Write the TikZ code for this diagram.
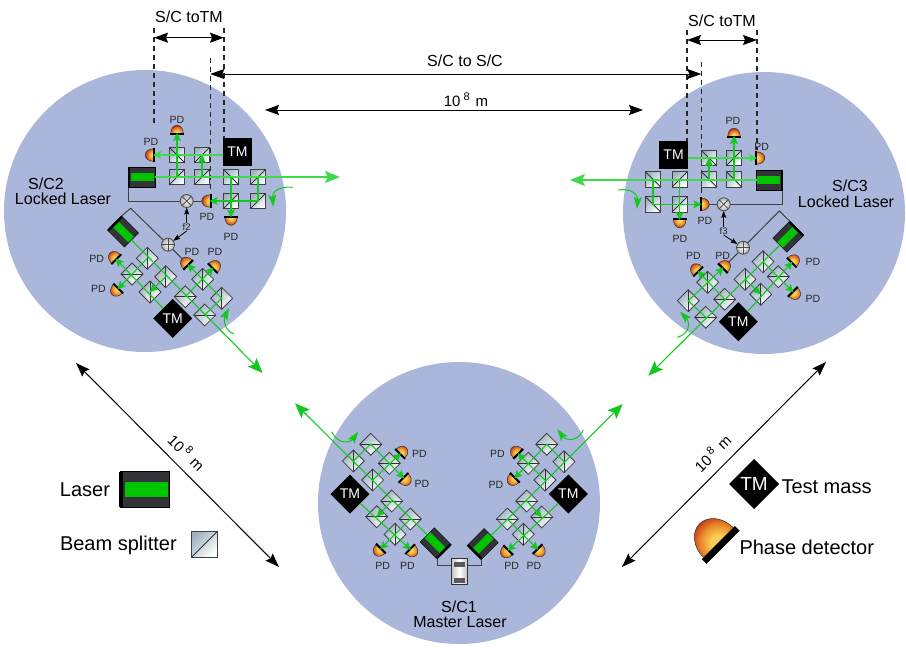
\documentclass[tikz,border=0pt]{standalone}
\usepackage{fontspec}
\setmainfont{Liberation Sans}
\usetikzlibrary{arrows.meta,shapes.geometric}
\definecolor{disc}{HTML}{AAB7DA}
\definecolor{beamg}{HTML}{12C81E}
\definecolor{beaml}{HTML}{3FD94A}
\definecolor{lasg}{HTML}{00C400}
\definecolor{lasd}{HTML}{33333A}
\definecolor{bsd}{HTML}{9DB2C0}
\definecolor{pdy}{HTML}{F8CF55}
\definecolor{pdo}{HTML}{E98A2A}
\definecolor{pdr}{HTML}{BE1E12}
\pgfdeclareradialshading{pdshade}{\pgfpointorigin}{color(0bp)=(pdy); color(6bp)=(pdy); color(15bp)=(pdo); color(25bp)=(pdr); color(50bp)=(pdr)}
\pgfdeclarelayer{back}
\pgfsetlayers{back,main}
\tikzset{
  fs/.style={font=\fontsize{#1}{#1}\selectfont,inner sep=0pt},
  sc/.style={circle,fill=disc,minimum size=282,inner sep=0},
  bs/.style={rectangle,draw=black!75,line width=.8,minimum size=15.5,inner sep=0,top color=bsd,bottom color=white,shading angle=45},
  bsl/.style={draw=black!80,line width=.8},
  tmq/.style={rectangle,fill=black,text=white,minimum size=28.5,inner sep=0,fs=14},
  tmd/.style={diamond,aspect=1,fill=black,text=white,minimum size=39,inner sep=0,fs=14},
  lab/.style={fs=16},
  pdlab/.style={fs=10.5,text=black!85},
  flab/.style={fs=9.5,text=black!85,inner sep=.5},
  bm/.style={draw=beamg,line width=1.1},
  bmh/.style={draw=beaml,line width=1.9},
  smalltip/.style={-{Stealth[length=8pt,width=8pt,inset=1.5pt]}},
  bigtip/.style={-{Stealth[length=15pt,width=12pt,inset=3pt]}},
  curv/.style={draw=beamg,line width=1,-{Stealth[length=12pt,width=8pt,inset=2.5pt]}},
  wire/.style={draw=black!75,line width=1},
  dimarrow/.style={draw=black,line width=1,{Stealth[length=14pt,width=10pt,inset=2pt]}-{Stealth[length=14pt,width=10pt,inset=2pt]}},
  dash1/.style={draw=black!85,line width=1.25,dash pattern=on 5pt off 4pt},
  fine/.style={draw=black,line width=.8,-{Stealth[length=7pt,width=5pt,inset=1pt]}},
  mixer/.style={circle,draw=black!70,line width=.8,minimum size=13,inner sep=0,inner color=white,outer color=black!30},
}
\newcommand\bsA[3]{\node[bs,rotate=#3] (#1) at (#2) {}; \draw[bsl] (#1.south west)--(#1.north east);}
\newcommand\bsB[3]{\node[bs,rotate=#3] (#1) at (#2) {}; \draw[bsl] (#1.north west)--(#1.south east);}
% name, flat centre, direction of the dome, scale
\newcommand\pdshape[4]{\coordinate (#1) at (#2);
  \begin{scope}[shift={(#2)},rotate=#3,scale=#4]
    \begin{scope}
      \clip (0pt,-6.2pt) arc[start angle=-90,end angle=90,x radius=7.8pt,y radius=6.2pt] -- cycle;
      \shade[shading=pdshade] (0pt,0pt) circle (8pt);
    \end{scope}
    \draw[black!80,line width=.5] (0pt,-6.2pt) arc[start angle=-90,end angle=90,x radius=7.8pt,y radius=6.2pt];
    \fill[black] (-2pt,-6.9pt) rectangle (0pt,6.9pt);
  \end{scope}}
\newcommand\pd[4]{\pdshape{#1}{#2}{#3}{1}\node[pdlab] (#1l) at (#4) {PD};}
% name, centre, rotation, length, scale factor
\newcommand\laser[5]{\node[rectangle,fill=lasd,draw=black,line width=.4,rotate=#3,minimum width=#4*#5,minimum height=20*#5,inner sep=0] (#1) at (#2) {};
  \begin{scope}[shift={(#2)},rotate=#3,scale=#5]
    \fill[lasg] ({-#4/2+2.5},-4) rectangle ({#4/2-.6},4);
    \fill[black] ({-#4/2-.4},-9.5) rectangle ({-#4/2+1.8},9.5);
  \end{scope}}
\begin{document}
\begin{tikzpicture}[x=1pt,y=-1pt,every node/.append style={outer sep=0pt}]
\useasboundingbox (0,0) rectangle (906,648);
\begin{pgfonlayer}{back}
\node[sc] (sc2) at (145,211) {};
\node[sc] (sc3) at (764,213) {};
\node[sc] (sc1) at (459,503) {};
\end{pgfonlayer}
%--- reference coordinates of dimension lines
\coordinate (d1t) at (154,28);  \coordinate (d1b) at (154,125);
\coordinate (d2t) at (224,28);  \coordinate (d2b) at (224,138);
\coordinate (d3t) at (210.5,58);\coordinate (d3b) at (210.5,190);
\coordinate (d4t) at (687,30);  \coordinate (d4b) at (687,141);
\coordinate (d5t) at (757,30);  \coordinate (d5b) at (757,150);
\coordinate (d6t) at (701.5,62);\coordinate (d6b) at (701.5,197);
\foreach \n in {1,...,6}{\draw[dash1] (d\n t) -- (d\n b);}
\coordinate (a1l) at (154,37.7); \coordinate (a1r) at (224,37.7);
\coordinate (a2l) at (687,40);   \coordinate (a2r) at (757,40);
\coordinate (a3l) at (210.3,74); \coordinate (a3r) at (701.3,74);
\coordinate (a4l) at (265,110);  \coordinate (a4r) at (643,110);
\coordinate (a5l) at (76,363);   \coordinate (a5r) at (279,567);
\coordinate (a6l) at (622,567);  \coordinate (a6r) at (826,362);
\foreach \n in {1,...,6}{\draw[dimarrow] (a\n l) -- (a\n r);}
\node[lab] (t1) at (189,17) {S/C toTM};
\node[lab] (t2) at (722,21) {S/C toTM};
\node[lab] (t3) at (465,61) {S/C to S/C};
\node[fs=15] (t4) at (466,100) {10\hspace{3pt}\raisebox{6pt}{\fontsize{11}{11}\selectfont 8}\hspace{6pt}m};
\node[fs=15,rotate=-45] (t5) at (187,452) {10\hspace{3pt}\raisebox{6pt}{\fontsize{11}{11}\selectfont 8}\hspace{6pt}m};
\node[fs=15,rotate=45] (t6) at (712,453) {10\hspace{3pt}\raisebox{6pt}{\fontsize{11}{11}\selectfont 8}\hspace{6pt}m};
\node[lab] (s2a) at (46,184) {S/C2};
\node[lab] (s2b) at (63,199) {Locked Laser};
\node[lab] (s3a) at (850,186) {S/C3};
\node[lab] (s3b) at (846,202) {Locked Laser};
\node[lab] (s1a) at (459,607) {S/C1};
\node[lab] (s1b) at (460,622) {Master Laser};

%=== S/C2 bench
\bsB{b2a}{177,155}{0}\bsA{b2b}{202,155}{0}\bsA{b2c}{177,177}{0}\bsA{b2d}{202,177}{0}
\bsB{b2e}{231,177}{0}\bsA{b2f}{258,177}{0}\bsA{b2g}{231,201}{0}\bsA{b2h}{258,201}{0}
\node[tmq] (tm2) at (237.5,152) {TM};
\laser{las2}{141.5,177}{0}{27}{1}
\pd{p2e}{153,155}{180}{151,142}
\pd{p2f}{177,133}{90}{177,120}
\pd{p2g}{231,217.5}{270}{231,237}
\pd{p2h}{209.5,201}{180}{207,216.5}
\node[mixer] (x2) at (186.7,201) {};
\draw[black!70,line width=.8] (x2.north west) -- (x2.south east) (x2.north east) -- (x2.south west);
\node[flab] (f2) at (186.7,227) {f2};
\coordinate (o2) at (340,177);
\draw[bmh,bigtip] (las2.east) -- (o2);
\draw[bmh,smalltip] (tm2.west |- b2b.center) -- (p2e);
\draw[bm,smalltip] (b2c.center) -- (p2f);
\draw[bm,smalltip] (b2d.center) -- (b2b.center);
\draw[bm,smalltip] (b2e.center) -- (p2g);
\draw[bm,smalltip] (b2f.center) -- (b2h.center) -- (p2h);
\draw[fine] (f2.north) -- (x2.south);
\coordinate (c2s) at (292.7,187.3); \coordinate (c2e) at (273.3,206.7);
\draw[curv] (c2s) .. controls (277,186) and (272,193) .. (c2e);
\begin{pgfonlayer}{back}\draw[wire] (x2) -| (las2.south west);\draw[wire] (x2) -- (p2h);\end{pgfonlayer}

%=== S/C2 diagonal
\bsA{d2a}{147.3,258.3}{45}\bsB{d2b}{132,274}{45}\bsA{d2c}{165.7,276.7}{45}\bsA{d2d}{150,292}{45}
\bsB{d2e}{185.3,296.7}{45}\bsA{d2f}{202.7,279.3}{45}\bsA{d2g}{221.7,298.3}{45}\bsB{d2h}{204.7,315}{45}
\node[tmd] (tm2d) at (172.7,318.3) {TM};
\laser{las2d}{123,231.5}{-45}{24}{1}
\pd{q2a}{115.5,258.5}{135}{96.7,259}
\pd{q2b}{117.5,289.2}{225}{98.5,289}
\pd{q2c}{187.5,264.2}{135}{192,252}
\pd{q2d}{213.5,267.5}{45}{215,252}
\node[mixer] (y2) at (168,244.7) {};
\draw[black!70,line width=.8] (y2.north) -- (y2.south) (y2.west) -- (y2.east);
\coordinate (o2d) at (262.7,373);
\draw[bm,bigtip] (las2d.east) -- (o2d);
\draw[bm,smalltip] (tm2d) -- (q2a);
\draw[bm,smalltip] (d2a.center) -- (q2b);
\draw[bm,smalltip] (d2c.center) -- (d2d.center);
\draw[bm,smalltip] (d2h.center) -- (d2g.center) -- (q2c);
\draw[bm,smalltip] (d2e.center) -- (q2d);
\draw[fine] (f2.south) -- (y2);
\coordinate (c2t) at (234,334); \coordinate (c2u) at (229,308);
\draw[curv] (c2t) .. controls (225,331) and (223,320) .. (c2u);
\coordinate (k2) at (130.7,208.3);
\begin{pgfonlayer}{back}\draw[wire] (q2c) -- (y2) -- (k2) -- (las2d.north west);\end{pgfonlayer}

%=== S/C3 bench
\bsB{b3a}{709,158}{0}\bsA{b3b}{734,158}{0}\bsB{b3c}{709,179.3}{0}\bsB{b3d}{734,179.3}{0}
\bsB{b3e}{653,179.3}{0}\bsA{b3f}{679.7,179.3}{0}\bsB{b3g}{653,204.3}{0}\bsA{b3h}{679.7,204.3}{0}
\node[tmq] (tm3) at (673.6,155) {TM};
\laser{las3}{769.5,180}{180}{26}{1}
\pd{p3e}{757,158}{0}{761.7,147.3}
\pd{p3f}{734,136}{90}{733,120.7}
\pd{p3g}{679.7,220}{270}{680,239}
\pd{p3h}{701.5,204.3}{0}{705,220.7}
\node[mixer] (x3) at (723.7,204.3) {};
\draw[black!70,line width=.8] (x3.north west) -- (x3.south east) (x3.north east) -- (x3.south west);
\node[flab] (f3) at (723.7,231) {f3};
\coordinate (o3) at (570,180);
\draw[bmh,bigtip] (las3.east) -- (o3);
\draw[bmh,smalltip] (tm3.east |- b3a.center) -- (p3e);
\draw[bm,smalltip] (b3d.center) -- (p3f);
\draw[bm,smalltip] (b3c.center) -- (b3a.center);
\draw[bm,smalltip] (b3f.center) -- (p3g);
\draw[bm,smalltip] (b3e.center) -- (b3g.center) -- (p3h);
\draw[fine] (f3.north) -- (x3.south);
\coordinate (c3s) at (618,190); \coordinate (c3e) at (637,209);
\draw[curv] (c3s) .. controls (632,188) and (638,195) .. (c3e);
\begin{pgfonlayer}{back}\draw[wire] (x3) -| (las3.north west);\draw[wire] (x3) -- (p3h);\end{pgfonlayer}

%=== S/C3 diagonal
\bsA{d3a}{763,261.7}{45}\bsB{d3b}{778.3,276.7}{45}\bsA{d3c}{745,279.3}{45}\bsA{d3d}{760.7,294.3}{45}
\bsB{d3e}{724.7,299.3}{45}\bsA{d3f}{707.7,282.3}{45}\bsA{d3g}{688.3,300.7}{45}\bsB{d3h}{705.7,317.3}{45}
\node[tmd] (tm3d) at (738.3,321.7) {TM};
\laser{las3d}{788.3,236.7}{225}{24}{1}
\pd{q3a}{792.5,261.8}{45}{813,262.3}
\pd{q3b}{793.5,292.5}{315}{813,299}
\pd{q3c}{697.5,270.8}{135}{693.3,255.7}
\pd{q3d}{723.5,267.5}{45}{722.7,255.7}
\node[mixer] (y3) at (743,247.7) {};
\draw[black!70,line width=.8] (y3.north) -- (y3.south) (y3.west) -- (y3.east);
\coordinate (o3d) at (648.3,375.7);
\draw[bm,bigtip] (las3d.east) -- (o3d);
\draw[bm,smalltip] (tm3d) -- (q3a);
\draw[bm,smalltip] (d3a.center) -- (q3b);
\draw[bm,smalltip] (d3c.center) -- (d3d.center);
\draw[bm,smalltip] (d3e.center) -- (q3c);
\draw[bm,smalltip] (d3h.center) -- (d3g.center) -- (q3d);
\draw[fine] (f3.south) -- (y3);
\coordinate (c3t) at (677.3,337.3); \coordinate (c3u) at (680,311.7);
\draw[curv] (c3t) .. controls (690,334) and (690,322) .. (c3u);
\coordinate (k3) at (779.3,211);
\begin{pgfonlayer}{back}\draw[wire] (q3d) -- (y3) -- (k3) -- (las3d.south west);\end{pgfonlayer}

%=== S/C1 left
\bsB{d1a}{370.7,444.3}{45}\bsA{d1b}{353.3,461}{45}\bsB{d1c}{389.3,463.3}{45}\bsA{d1d}{372.7,480}{45}
\bsB{d1e}{391.7,501}{45}\bsB{d1f}{410.3,519}{45}\bsB{d1g}{376.7,516.7}{45}\bsA{d1h}{395,534.3}{45}
\node[tmd] (tm1a) at (350,494) {TM};
\laser{las1a}{435.7,543.3}{135}{24}{1}
\pd{q1a}{400.8,453.2}{45}{419.3,454}
\pd{q1b}{404.2,478.5}{315}{422,484.3}
\pd{q1c}{380.2,549.2}{225}{382.7,566}
\pd{q1d}{410.8,549.8}{315}{407.3,566}
\coordinate (o1a) at (295,403.3);
\draw[bm,bigtip] (las1a.east) -- (o1a);
\draw[bm,smalltip] (tm1a) -- (q1d);
\draw[bm,smalltip] (d1b.center) -- (d1a.center) -- (q1b);
\draw[bm,smalltip] (d1d.center) -- (q1a);
\draw[bm,smalltip] (d1e.center) -- (d1g.center);
\draw[bm,smalltip] (d1f.center) -- (q1c);
\coordinate (c1s) at (331.7,431.7); \coordinate (c1e) at (358.3,431.7);
\draw[curv] (c1s) .. controls (338,445) and (350,443) .. (c1e);

%=== S/C1 right
\bsB{e1a}{546.7,444.3}{45}\bsA{e1b}{564,461.7}{45}\bsB{e1c}{528.3,463.3}{45}\bsA{e1d}{545,480}{45}
\bsB{e1e}{526.7,501}{45}\bsB{e1f}{507.3,519}{45}\bsB{e1g}{541.7,517}{45}\bsA{e1h}{523.3,534.3}{45}
\node[tmd] (tm1b) at (568.3,494) {TM};
\laser{las1b}{482.7,544}{45}{24}{1}
\pd{r1a}{517.5,453.2}{135}{497.3,454}
\pd{r1b}{514.2,478.5}{225}{496,485}
\pd{r1c}{507.5,550.8}{225}{511.7,566}
\pd{r1d}{538.2,549.8}{315}{534,566}
\coordinate (o1b) at (622.7,404);
\draw[bm,bigtip] (las1b.east) -- (o1b);
\draw[bm,smalltip] (tm1b) -- (r1c);
\draw[bm,smalltip] (e1f.center) -- (r1d);
\draw[bm,smalltip] (e1e.center) -- (e1g.center);
\draw[bm,smalltip] (e1d.center) -- (r1a);
\draw[bm,smalltip] (e1b.center) -- (e1a.center) -- (r1b);
\coordinate (c1t) at (583.3,430); \coordinate (c1u) at (557.3,429);
\draw[curv] (c1t) .. controls (578,442) and (566,441) .. (c1u);

%=== master laser
\node[rectangle,draw=black!80,line width=.8,minimum width=16.7,minimum height=26,inner sep=0,left color=black!25,right color=black!25,middle color=white] (mst) at (459.3,571.3) {};
\fill[black!65] (454.3,561.7) rectangle (465,566.7);
\fill[black!65] (454.3,577.7) rectangle (465,582.7);
\coordinate (mL) at (mst.west |- 0,565.7);
\coordinate (mR) at (mst.east |- 0,565.7);
\begin{pgfonlayer}{back}
\draw[wire] (las1a.north west) |- (mL);
\draw[wire] (las1b.south west) |- (mR);
\end{pgfonlayer}

%=== legend
\node[fs=20] (lg1) at (85,490) {Laser};
\laser{lasL}{144.5,489.5}{0}{27}{1.8}
\node[fs=20,anchor=west] (lg2) at (60,545) {Beam splitter};
\node[bs,minimum size=26] (bsL) at (204.7,544) {};
\draw[bsl] (bsL.south west) -- (bsL.north east);
\node[tmd,minimum size=50,fs=19] (tmL) at (754,484) {TM};
\node[fs=20,anchor=west] (lg3) at (781.5,487) {Test mass};
\pdshape{pdL}{718.3,542.5}{135}{3.4}
\node[fs=20,anchor=west] (lg4) at (739.5,547) {Phase detector};
\end{tikzpicture}
\end{document}
